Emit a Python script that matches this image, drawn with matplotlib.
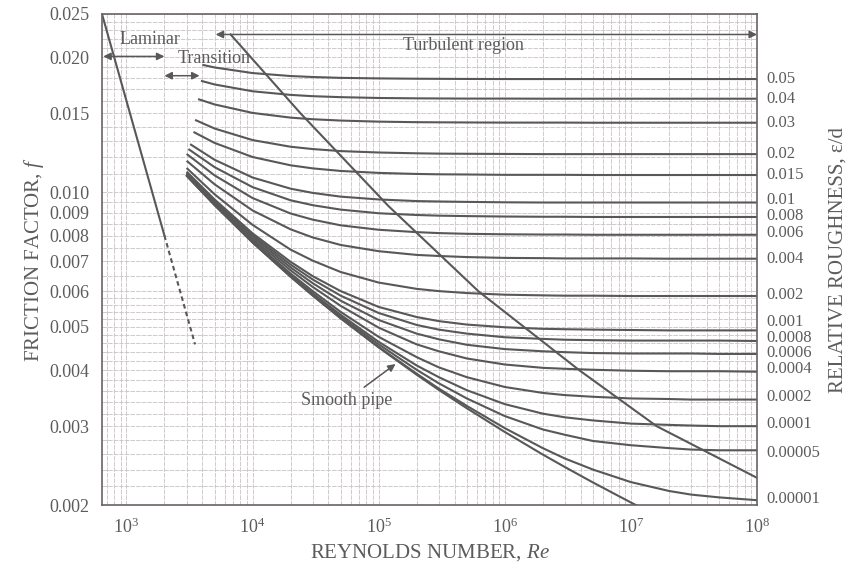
import numpy as np
import matplotlib
matplotlib.use('Agg')
import matplotlib.pyplot as plt
from matplotlib.ticker import FixedLocator, LogLocator, FormatStrFormatter, NullFormatter

plt.rcParams['font.family'] = ['Liberation Serif', 'DejaVu Serif']
plt.rcParams['mathtext.fontset'] = 'custom'
plt.rcParams['mathtext.rm'] = 'Liberation Serif'
plt.rcParams['mathtext.it'] = 'Liberation Serif:italic'

# ---- data (Fanning friction factor) ----
# relative roughness of each curve, top to bottom
roughness = ['0.05', '0.04', '0.03', '0.02', '0.015', '0.01', '0.008', '0.006', '0.004',
             '0.002', '0.001', '0.0008', '0.0006', '0.0004', '0.0002', '0.0001',
             '0.00005', '0.00001']

# where each curve begins on the left
start_re = [4000, 3900, 3700, 3500, 3400, 3200, 3100, 3000, 3000,
            3000, 3000, 3000, 3000, 3000, 3000, 3000, 3000, 3000]
start_f = [0.01925, 0.01773, 0.01614, 0.01450, 0.01363, 0.01280, 0.01248, 0.01217, 0.01175,
           0.01132, 0.01111, 0.01106, 0.01101, 0.01097, 0.01093, 0.01091, 0.01090, 0.01089]

# friction factor of each curve at these Reynolds numbers
re_grid = [5e3, 1e4, 2e4, 3e4, 5e4, 1e5, 2e5, 3e5, 5e5, 1e6,
           2e6, 3e6, 5e6, 1e7, 2e7, 3e7, 5e7, 1e8]
f_005 = [0.01899, 0.01845, 0.01817, 0.01808, 0.01800, 0.01795, 0.01792, 0.01791, 0.01790, 0.01789,
         0.01789, 0.01789, 0.01789, 0.01789, 0.01789, 0.01789, 0.01789, 0.01789]
f_004 = [0.01740, 0.01680, 0.01649, 0.01638, 0.01630, 0.01623, 0.01620, 0.01619, 0.01618, 0.01618,
         0.01617, 0.01617, 0.01617, 0.01617, 0.01617, 0.01617, 0.01617, 0.01617]
f_003 = [0.01570, 0.01503, 0.01467, 0.01455, 0.01445, 0.01437, 0.01433, 0.01432, 0.01431, 0.01430,
         0.01430, 0.01430, 0.01429, 0.01429, 0.01429, 0.01429, 0.01429, 0.01429]
f_002 = [0.01387, 0.01307, 0.01263, 0.01248, 0.01235, 0.01226, 0.01221, 0.01219, 0.01218, 0.01217,
         0.01216, 0.01216, 0.01216, 0.01216, 0.01216, 0.01216, 0.01216, 0.01216]
f_0015 = [0.01288, 0.01198, 0.01148, 0.01130, 0.01115, 0.01104, 0.01098, 0.01096, 0.01095, 0.01093,
          0.01093, 0.01093, 0.01092, 0.01092, 0.01092, 0.01092, 0.01092, 0.01092]
f_001 = [0.01181, 0.01078, 0.01018, 0.00996, 0.00977, 0.00963, 0.00955, 0.00953, 0.00951, 0.00949,
         0.00948, 0.00948, 0.00948, 0.00948, 0.00948, 0.00948, 0.00948, 0.00948]
f_0008 = [0.01137, 0.01026, 0.00959, 0.00935, 0.00914, 0.00897, 0.00889, 0.00886, 0.00884, 0.00882,
          0.00881, 0.00881, 0.00880, 0.00880, 0.00880, 0.00880, 0.00880, 0.00880]
f_0006 = [0.01090, 0.00970, 0.00896, 0.00868, 0.00843, 0.00824, 0.00814, 0.00810, 0.00807, 0.00805,
          0.00804, 0.00804, 0.00803, 0.00803, 0.00803, 0.00803, 0.00803, 0.00803]
f_0004 = [0.01041, 0.00910, 0.00826, 0.00792, 0.00762, 0.00738, 0.00724, 0.00720, 0.00716, 0.00713,
          0.00712, 0.00711, 0.00711, 0.00711, 0.00710, 0.00710, 0.00710, 0.00710]
f_0002 = [0.00989, 0.00845, 0.00744, 0.00703, 0.00663, 0.00628, 0.00608, 0.00601, 0.00595, 0.00590,
          0.00588, 0.00587, 0.00587, 0.00586, 0.00586, 0.00586, 0.00586, 0.00586]
f_0001 = [0.00963, 0.00809, 0.00699, 0.00649, 0.00601, 0.00554, 0.00526, 0.00515, 0.00506, 0.00499,
          0.00495, 0.00494, 0.00493, 0.00492, 0.00491, 0.00491, 0.00491, 0.00491]
f_00008 = [0.00957, 0.00802, 0.00689, 0.00638, 0.00587, 0.00537, 0.00505, 0.00493, 0.00483, 0.00474,
           0.00470, 0.00468, 0.00467, 0.00466, 0.00466, 0.00466, 0.00466, 0.00465]
f_00006 = [0.00951, 0.00795, 0.00679, 0.00626, 0.00572, 0.00518, 0.00483, 0.00469, 0.00456, 0.00446,
           0.00441, 0.00439, 0.00437, 0.00436, 0.00436, 0.00436, 0.00435, 0.00435]
f_00004 = [0.00946, 0.00787, 0.00669, 0.00614, 0.00557, 0.00498, 0.00457, 0.00441, 0.00425, 0.00412,
           0.00405, 0.00403, 0.00401, 0.00399, 0.00398, 0.00398, 0.00398, 0.00397]
f_00002 = [0.00941, 0.00780, 0.00658, 0.00601, 0.00540, 0.00475, 0.00428, 0.00406, 0.00386, 0.00367,
           0.00356, 0.00352, 0.00349, 0.00346, 0.00345, 0.00344, 0.00344, 0.00344]
f_00001 = [0.00938, 0.00776, 0.00652, 0.00594, 0.00532, 0.00463, 0.00410, 0.00386, 0.00361, 0.00336,
           0.00320, 0.00314, 0.00309, 0.00304, 0.00302, 0.00301, 0.00300, 0.00300]
f_000005 = [0.00937, 0.00774, 0.00650, 0.00591, 0.00527, 0.00457, 0.00401, 0.00374, 0.00346, 0.00316,
            0.00295, 0.00287, 0.00278, 0.00272, 0.00268, 0.00266, 0.00265, 0.00265]
f_000001 = [0.00936, 0.00772, 0.00648, 0.00588, 0.00523, 0.00451, 0.00393, 0.00364, 0.00333, 0.00297,
            0.00268, 0.00254, 0.00240, 0.00225, 0.00215, 0.00211, 0.00208, 0.00205]

# smooth pipe curve
smooth_re = [3000, 5000, 1e4, 2e4, 3e4, 5e4, 1e5, 2e5, 3e5, 5e5, 1e6, 2e6, 3e6, 5e6, 1e7, 1.2e7]
smooth_f = [0.01088, 0.009358, 0.007721, 0.006472, 0.005873, 0.005223, 0.004498, 0.00391,
            0.003615, 0.00329, 0.002912, 0.002593, 0.002431, 0.002246, 0.002026, 0.001973]

# laminar line (solid) and its dashed continuation
laminar_re = [640, 2000]
laminar_f = [0.025, 0.008]
lam_dash_re = [2000, 3500]
lam_dash_f = [0.008, 0.00457]

# boundary of the fully rough zone
bound_re = [6700, 2.4e4, 1.2e5, 6.2e5, 3.9e6, 1.6e7, 1e8]
bound_f = [0.0225, 0.0150, 0.0093, 0.0060, 0.0040, 0.0030, 0.0023]

ytick_vals = [0.002, 0.003, 0.004, 0.005, 0.006, 0.007, 0.008, 0.009, 0.010, 0.015, 0.020, 0.025]

curves = [f_005, f_004, f_003, f_002, f_0015, f_001, f_0008, f_0006, f_0004, f_0002,
          f_0001, f_00008, f_00006, f_00004, f_00002, f_00001, f_000005, f_000001]

# ---- style ----
LINE = '#585858'
TEXT = '#5c5c5c'
GRID = '#cdc6c6'
FS = 13
label_nudge = {'0.01': 1.8, '0.008': 1, '0.006': 1, '0.002': 1, '0.001': 6, '0.0008': 2,
               '0.0006': 0.6, '0.0004': 2, '0.0002': 2.2, '0.0001': 1.5, '0.00005': -2,
               '0.00001': 1}

fig = plt.figure(figsize=(8.6, 5.64), dpi=100)
ax = fig.add_axes([102 / 860, 1 - 505 / 564, 655 / 860, 491 / 564])
ax.set_xscale('log')
ax.set_yscale('log')
ax.set_xlim(640, 1e8)
ax.set_ylim(0.002, 0.025)

# grid
ax.xaxis.set_major_locator(LogLocator(base=10))
ax.xaxis.set_minor_locator(LogLocator(base=10, subs=np.arange(2, 10)))
ax.xaxis.set_minor_formatter(NullFormatter())
ygrid = np.concatenate([np.arange(0.002, 0.006, 0.0002), np.arange(0.006, 0.010, 0.0005),
                        np.arange(0.010, 0.025, 0.001)])
ax.yaxis.set_major_locator(FixedLocator(ytick_vals))
ax.yaxis.set_major_formatter(FormatStrFormatter('%.3f'))
ax.yaxis.set_minor_locator(FixedLocator(ygrid))
ax.yaxis.set_minor_formatter(NullFormatter())
ax.grid(True, which='both', color=GRID, lw=0.65, ls=(0, (5, 1.2)))
ax.set_axisbelow(True)
ax.tick_params(which='both', length=0, labelsize=FS, labelcolor=TEXT)
ax.tick_params(axis='x', pad=9)
ax.tick_params(axis='y', pad=9)
for s in ax.spines.values():
    s.set_color('#6a6262')
    s.set_linewidth(1.2)

# curves
for name, r0, f0, fv in zip(roughness, start_re, start_f, curves):
    ax.plot([r0] + re_grid, [f0] + fv, color=LINE, lw=1.5, solid_capstyle='butt')
    ax.annotate(name, xy=(1, fv[-1]), xycoords=('axes fraction', 'data'),
                xytext=(7, label_nudge.get(name, 0)), textcoords='offset points',
                ha='left', va='center', fontsize=12, color=TEXT, annotation_clip=False)

ax.plot(smooth_re, smooth_f, color=LINE, lw=1.5)
ax.plot(laminar_re, laminar_f, color=LINE, lw=1.5)
ax.plot(lam_dash_re, lam_dash_f, color=LINE, lw=1.5, ls=(0, (2.2, 1.6)))
ax.plot(bound_re, bound_f, color=LINE, lw=1.5)

# region arrows and notes
arr = dict(arrowstyle='<|-|>', color=LINE, lw=1.1, mutation_scale=11, shrinkA=0, shrinkB=0)
ax.annotate('', xy=(2000, 0.0201), xytext=(655, 0.0201), arrowprops=arr)
ax.annotate('', xy=(3800, 0.0182), xytext=(2000, 0.0182), arrowprops=arr)
ax.annotate('', xy=(1e8, 0.0225), xytext=(5100, 0.0225), arrowprops=arr)
ax.text(1550, 0.0219, 'Laminar', fontsize=FS, color=TEXT, ha='center', va='center')
ax.text(4990, 0.0199, 'Transition', fontsize=FS, color=TEXT, ha='center', va='center')
ax.text(4.73e5, 0.0213, 'Turbulent region', fontsize=FS, color=TEXT, ha='center', va='center')
ax.annotate('Smooth pipe', xy=(1.36e5, 0.00413), xytext=(5.57e4, 0.00343),
            fontsize=FS, color=TEXT, ha='center', va='center',
            arrowprops=dict(arrowstyle='-|>', color=LINE, lw=1.1, mutation_scale=11,
                            shrinkA=2, shrinkB=0))

ax.set_xlabel('REYNOLDS NUMBER, $\\mathit{Re}$', fontsize=15, color=TEXT, labelpad=4)
ax.set_ylabel('FRICTION FACTOR, $\\mathit{f}$', fontsize=15, color=TEXT, labelpad=2)
fig.text(838 / 860, 1 - 260 / 564, 'RELATIVE ROUGHNESS, \u03b5/d', rotation=90,
         fontsize=15, color=TEXT, ha='center', va='center')

fig.savefig('out.png', dpi=100, facecolor='white')
